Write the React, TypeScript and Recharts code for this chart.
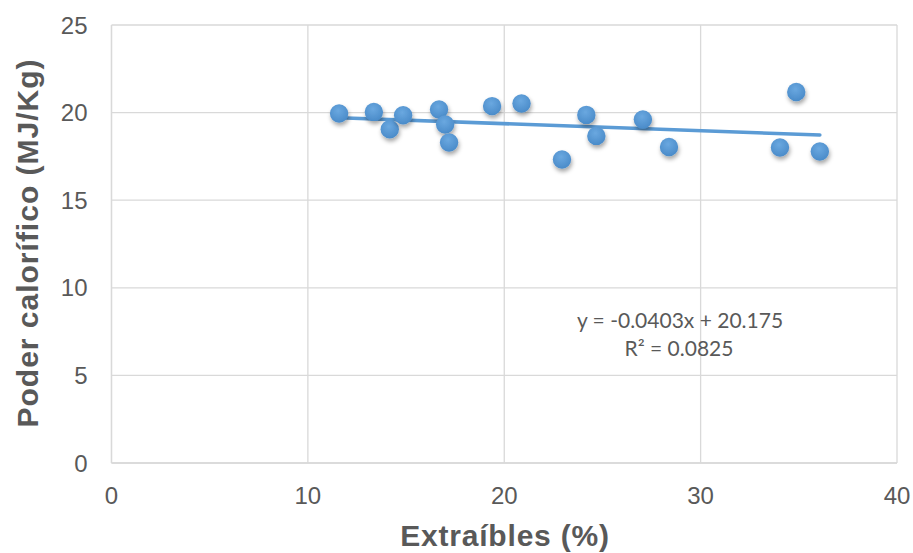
import { ScatterChart, Scatter, XAxis, YAxis, CartesianGrid, ReferenceLine, Label } from 'recharts'

// extractives (%) vs calorific value (MJ/kg)
const extractives = [11.59, 13.36, 14.17, 14.85, 16.68, 16.99, 17.19, 19.38, 20.88, 22.94, 24.18, 24.69, 27.06, 28.39, 34.04, 34.87, 36.07]
const calorific = [19.95, 20.04, 19.05, 19.85, 20.18, 19.32, 18.29, 20.37, 20.52, 17.32, 19.87, 18.67, 19.61, 18.04, 18.01, 21.18, 17.78]

// linear trendline ends (y = -0.0403x + 20.175)
const trendX = [11.59, 36.07]
const trendY = [19.71, 18.72]

const xTicks = [0, 10, 20, 30, 40]
const yTicks = [0, 5, 10, 15, 20, 25]
const equation = 'y = -0.0403x + 20.175'
const rSquared = 'R² = 0.0825'

const BLUE = '#5b9bd5'
const GRID = '#d9d9d9'
const TEXT = '#595959'
const FONT = 'Liberation Sans, Arial, sans-serif'

const points = extractives.map((x, i) => ({ x, y: calorific[i] }))

function Dot(props: any) {
  const { cx, cy } = props
  if (cx == null || cy == null) return null
  return <circle cx={cx} cy={cy} r={9.2} fill="url(#dotFill)" filter="url(#dotShadow)" />
}

export default function App() {
  return (
    <div style={{ position: 'absolute', left: 0, top: 0, background: '#fff' }}>
      <ScatterChart width={913} height={553} margin={{ top: 25, right: 16, bottom: 0, left: 0 }}>
        <defs>
          <radialGradient id="dotFill" cx="45%" cy="35%" r="65%">
            <stop offset="0%" stopColor="#6aa8e0" />
            <stop offset="100%" stopColor="#4a8bc9" />
          </radialGradient>
          <filter id="dotShadow" x="-50%" y="-50%" width="200%" height="200%">
            <feDropShadow dx="1" dy="3" stdDeviation="2" floodColor="#000" floodOpacity="0.35" />
          </filter>
        </defs>
        <CartesianGrid stroke={GRID} strokeWidth={1.3} />
        <XAxis
          type="number"
          dataKey="x"
          domain={[0, 40]}
          ticks={xTicks}
          height={90}
          tickSize={0}
          tickMargin={24}
          stroke={GRID}
          strokeWidth={1.3}
          tick={{ fill: TEXT, fontSize: 24, fontFamily: FONT }}
        >
          <Label
            content={() => (
              <text
                x={505}
                y={546}
                textAnchor="middle"
                fill={TEXT}
                fontSize={30}
                fontWeight="bold"
                letterSpacing={0.8}
                fontFamily={FONT}
              >
                Extraíbles (%)
              </text>
            )}
          />
        </XAxis>
        <YAxis
          type="number"
          dataKey="y"
          domain={[0, 25]}
          ticks={yTicks}
          width={111.5}
          tickSize={0}
          tickMargin={24}
          stroke={GRID}
          strokeWidth={1.3}
          tick={{ fill: TEXT, fontSize: 24, fontFamily: FONT }}
        >
          <Label
            content={() => (
              <text
                x={38}
                y={243}
                transform="rotate(-90, 38, 243)"
                textAnchor="middle"
                fill={TEXT}
                fontSize={30}
                fontWeight="bold"
                letterSpacing={1}
                fontFamily={FONT}
              >
                Poder calorífico (MJ/Kg)
              </text>
            )}
          />
        </YAxis>
        <Scatter data={points} shape={<Dot />} isAnimationActive={false} />
        <ReferenceLine
          segment={[
            { x: trendX[0], y: trendY[0] },
            { x: trendX[1], y: trendY[1] },
          ]}
          stroke={BLUE}
          strokeWidth={3.6}
          strokeLinecap="round"
          label={{
            content: () => (
              <g fill={TEXT} fontSize={21} fontFamily="Lato, 'Open Sans', sans-serif" textAnchor="middle">
                <text x={680} y={328}>{equation}</text>
                <text x={679} y={356}>{rSquared}</text>
              </g>
            ),
          }}
        />
      </ScatterChart>
    </div>
  )
}
